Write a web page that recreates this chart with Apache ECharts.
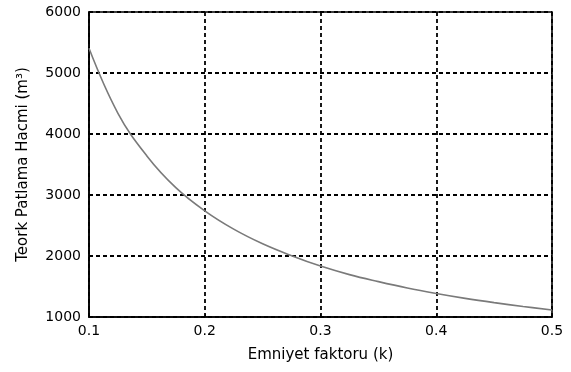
<!DOCTYPE html>
<html>
<head>
<meta charset="utf-8">
<script src="https://cdn.jsdelivr.net/npm/echarts@6/dist/echarts.min.js"></script>
<style>
  html, body { margin: 0; padding: 0; background: #fff; }
  #chart { width: 571px; height: 372px; }
</style>
</head>
<body>
<div id="chart"></div>
<script>
// Safety factor k and the theoretical blast volume (m³) at each k
const safetyFactor = [0.1, 0.125, 0.15, 0.175, 0.2, 0.225, 0.25, 0.275, 0.3, 0.325, 0.35, 0.375, 0.4, 0.425, 0.45, 0.475, 0.5];
const blastVolume  = [5405, 4340, 3640, 3120, 2740, 2440, 2200, 2005, 1835, 1695, 1580, 1475, 1385, 1305, 1235, 1172, 1115];

const xTicks = { min: 0.1, max: 0.5, step: 0.1 };
const yTicks = { min: 1000, max: 6000, step: 1000 };

const xTitle = 'Emniyet faktoru (k)';
const yTitle = 'Teork Patlama Hacmi (m³)';

const FONT = 'DejaVu Sans';

const chart = echarts.init(document.getElementById('chart'), null, { renderer: 'canvas' });

const gridDash = { color: '#000', width: 1.8, type: [4, 3] };

chart.setOption({
  animation: false,
  backgroundColor: '#fff',
  grid: {
    left: 89, right: 19, top: 12, bottom: 55,
    show: true, borderColor: '#000', borderWidth: 1.6, backgroundColor: '#fff'
  },
  xAxis: {
    type: 'value',
    min: xTicks.min, max: xTicks.max, interval: xTicks.step,
    name: xTitle,
    nameLocation: 'middle',
    nameGap: 31,
    nameTextStyle: { color: '#000', fontFamily: FONT, fontSize: 15 },
    axisLine: { show: true, lineStyle: { color: '#000', width: 1.6 } },
    axisTick: { show: true, inside: true, length: 3, lineStyle: { color: '#000' } },
    axisLabel: {
      color: '#000', fontFamily: FONT, fontSize: 14, margin: 7,
      formatter: v => v.toFixed(1)
    },
    splitLine: { show: true, lineStyle: gridDash }
  },
  yAxis: {
    type: 'value',
    min: yTicks.min, max: yTicks.max, interval: yTicks.step,
    name: yTitle,
    nameLocation: 'middle',
    nameGap: 58,
    nameTextStyle: { color: '#000', fontFamily: FONT, fontSize: 15 },
    axisLine: { show: true, lineStyle: { color: '#000', width: 1.6 } },
    axisTick: { show: true, inside: true, length: 3, lineStyle: { color: '#000' } },
    axisLabel: {
      color: '#000', fontFamily: FONT, fontSize: 14, margin: 8,
      formatter: v => String(v)
    },
    splitLine: { show: true, lineStyle: gridDash }
  },
  series: [{
    type: 'line',
    data: safetyFactor.map((k, i) => [k, blastVolume[i]]),
    smooth: 0.4,
    showSymbol: false,
    lineStyle: { color: '#7a7a7a', width: 1.6 },
    z: 3
  }]
});
</script>
</body>
</html>
